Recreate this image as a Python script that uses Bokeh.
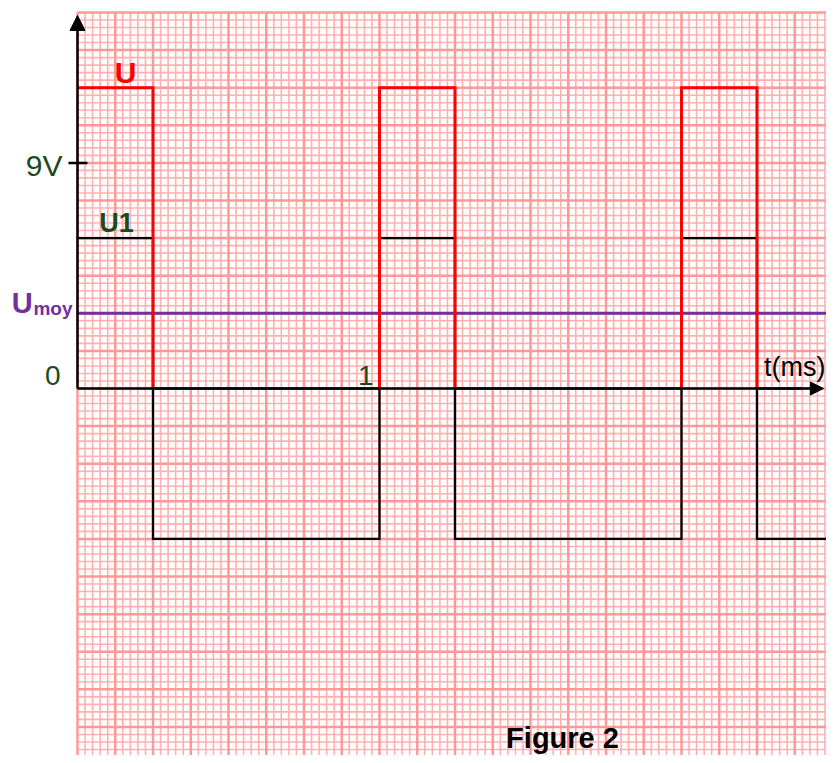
import numpy as np
from bokeh.plotting import figure
from bokeh.models import Range1d, Arrow, NormalHead, Label
from bokeh.embed import file_html
from bokeh.resources import INLINE

# ---- data (time in ms, voltage in V) ----
u_time = [0, 0.25, 0.25, 1, 1, 1.25, 1.25, 2, 2, 2.25, 2.25, 2.4]
u_volt = [12, 12, 0, 0, 12, 12, 0, 0, 12, 12, 0, 0]
u1_time = [0, 0.25, 0.25, 1, 1, 1.25, 1.25, 2, 2, 2.25, 2.25, 2.52]
u1_volt = [6, 6, -6, -6, 6, 6, -6, -6, 6, 6, -6, -6]
umoy_value = 3
umoy_span = [0, 2.52]
y_tick_value = 9
y_tick_label = "9V"
x_tick_value = 1
x_tick_label = "1"

FONT = "Liberation Sans"
GREEN = "#1c4a1c"
PURPLE = "#7030a0"
DY = 0.4  # baseline compensation

p = figure(width=826, height=755, output_backend="svg", toolbar_location=None,
           x_range=Range1d(-0.25497, 2.48013), y_range=Range1d(-14.639, 15.477),
           min_border=0, x_axis_type=None, y_axis_type=None)
p.grid.visible = False
p.outline_line_color = None
p.background_fill_color = "white"
p.border_fill_color = "white"

# ---- graph paper ----
gx_max = 2.5
gy_top, gy_bot = 15.0, -15.0
minor_x = np.arange(0, gx_max + 1e-9, 0.025)
minor_y = np.arange(gy_top, gy_bot - 1e-9, -0.3)
mx = [v for i, v in enumerate(minor_x) if i % 5 != 0]
my = [v for i, v in enumerate(minor_y) if i % 5 != 0]
Mx = [v for i, v in enumerate(minor_x) if i % 5 == 0]
My = [v for i, v in enumerate(minor_y) if i % 5 == 0]
minor_c, major_c = "#ffb0b0", "#ff9898"
p.segment(x0=mx, y0=[gy_top] * len(mx), x1=mx, y1=[gy_bot] * len(mx), line_color=minor_c, line_width=1.6)
p.segment(x0=[0] * len(my), y0=my, x1=[gx_max] * len(my), y1=my, line_color=minor_c, line_width=1.6)
p.segment(x0=Mx, y0=[gy_top] * len(Mx), x1=Mx, y1=[gy_bot] * len(Mx), line_color=major_c, line_width=2.5)
p.segment(x0=[0] * len(My), y0=My, x1=[gx_max] * len(My), y1=My, line_color=major_c, line_width=2.5)

# ---- axes ----
p.add_layout(Arrow(end=NormalHead(size=15, fill_color="black", line_color="black"),
                   x_start=0, y_start=0, x_end=0, y_end=14.88,
                   line_color="black", line_width=2.5))
p.add_layout(Arrow(end=NormalHead(size=13, fill_color="black", line_color="black"),
                   x_start=0, y_start=0, x_end=2.470, y_end=0,
                   line_color="black", line_width=2.5))
p.segment(x0=[-0.03], y0=[y_tick_value], x1=[0.033], y1=[y_tick_value], line_color="black", line_width=2.5)

# ---- signals ----
p.line(u1_time, u1_volt, line_color="black", line_width=2.3, line_join="miter")
p.line(umoy_span, [umoy_value, umoy_value], line_color=PURPLE, line_width=3)
p.line(u_time, u_volt, line_color="#ff0000", line_width=3, line_join="miter")

# ---- labels ----
def lab(x, y, text, color, size, bold=False, align="left"):
    p.add_layout(Label(x=x, y=y + DY, text=text, text_color=color, text_font=FONT,
                       text_font_size=f"{size}px", text_font_style="bold" if bold else "normal",
                       text_align=align, text_baseline="alphabetic"))

lab(0.159, 12.21, "U", "#ff0000", 30, True, "center")
lab(0.129, 6.22, "U1", GREEN, 27, True, "center")
lab(-0.218, 3.03, "U", PURPLE, 29, True)
lab(-0.0165, 2.79, "moy", PURPLE, 19, True, "right")
lab(-0.0497, 8.5, y_tick_label, GREEN, 30, False, "right")
lab(-0.0563, 0.12, "0", GREEN, 28, False, "right")
lab(0.980, 0.12, x_tick_label, GREEN, 28, False, "right")
lab(2.4768, 0.44, "t(ms)", "black", 27, False, "right")
lab(1.606, -14.36, "Figure 2", "black", 29, True, "center")

open("out.html", "w").write(file_html(p, INLINE))
